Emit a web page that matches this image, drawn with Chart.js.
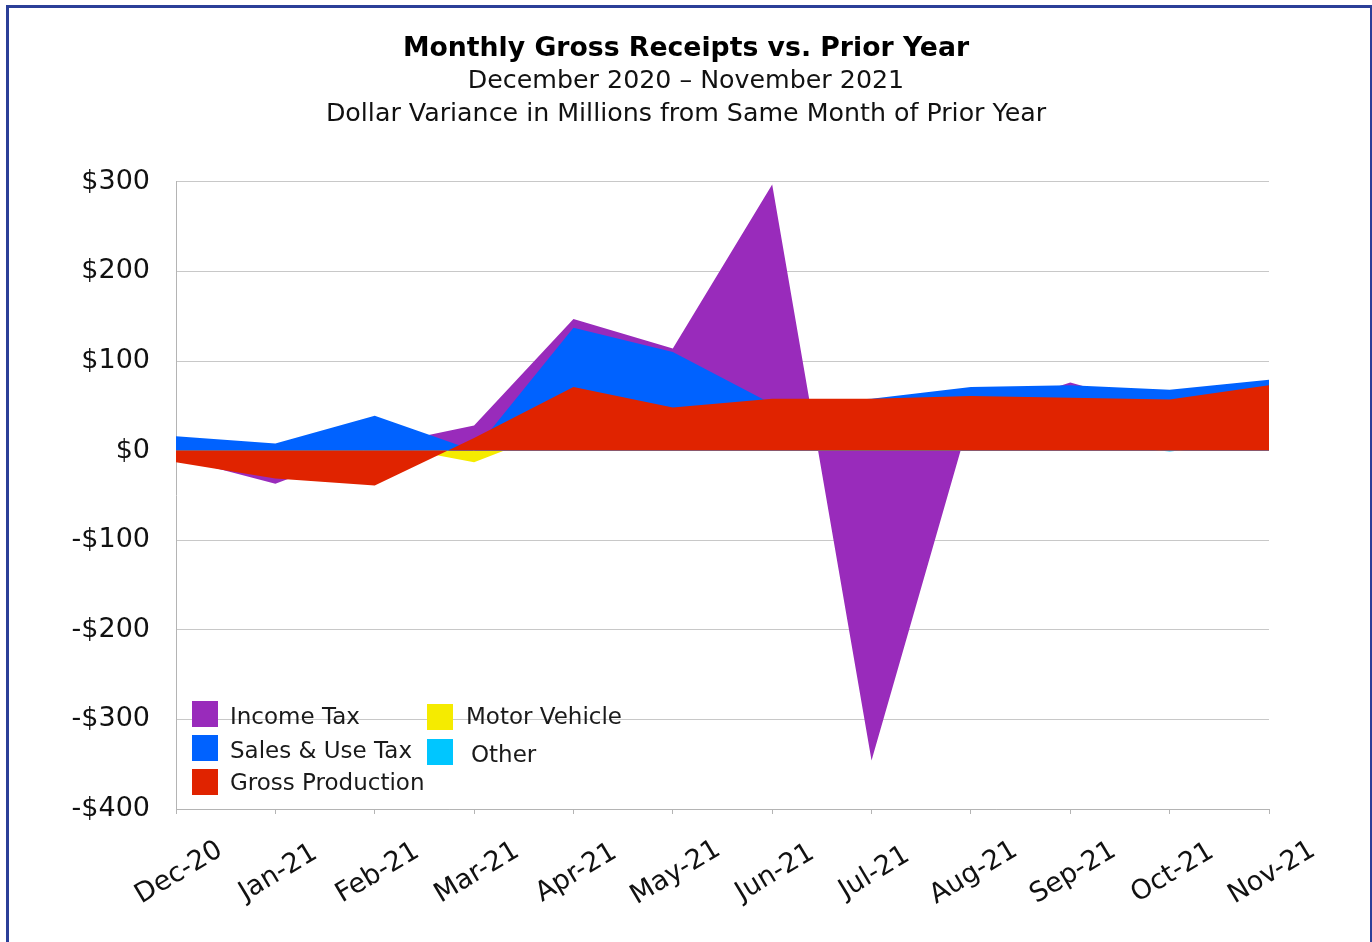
<!DOCTYPE html>
<html>
<head>
<meta charset="utf-8">
<script src="https://cdn.jsdelivr.net/npm/chart.js@4.4.1/dist/chart.umd.min.js"></script>
<style>
  html, body { margin: 0; padding: 0; background: #fff; }
  #wrap { position: relative; width: 1372px; height: 942px; overflow: hidden; }
  #frame { position: absolute; left: 6px; top: 5px; width: 1361px; height: 960px;
           border-left: 3px solid #2b3f98; border-top: 3px solid #2b3f98; border-right: 2px solid #2b3f98; }
  .leg { position: absolute; font-family: "DejaVu Sans", sans-serif; font-size: 23px; color: #1a1a1a; line-height: 26px; }
  .sw { position: absolute; width: 26px; height: 26px; }
</style>
</head>
<body>
<div id="wrap">
  <canvas id="chartReceipts"></canvas>
  <div id="frame"></div>
  <div id="legend"></div>
</div>
<script>
const months = ['Dec-20', 'Jan-21', 'Feb-21', 'Mar-21', 'Apr-21', 'May-21',
                'Jun-21', 'Jul-21', 'Aug-21', 'Sep-21', 'Oct-21', 'Nov-21'];

// dollar variance, millions
const incomeTax       = [-8, -37, 5, 28, 147, 114, 297, -346, 40, 76, 45, 60];
const salesUseTax     = [16, 8, 39, 0, 137, 110, 52, 58, 71, 73, 68, 79];
const grossProduction = [-13, -31, -39, 14, 71, 48, 58, 58, 61, 59, 57, 73];
const motorVehicle    = [4, 3, 8, -13, 30, 20, 15, 10, 6, 4, 3, 5];
const other           = [3, 2, 4, 3, 5, 6, 4, 3, 3, 10, -1, 10];

const yTicks = [-400, -300, -200, -100, 0, 100, 200, 300];

const colors = {
    income: '#992bbb',
    sales: '#0062ff',
    gross: '#e02300',
    motor: '#f5eb00',
    other: '#00c6ff'
};

function area(label, data, color, order) {
    return {
        label: label,
        data: data,
        backgroundColor: color,
        borderColor: color,
        borderWidth: 0,
        pointRadius: 0,
        fill: 'origin',
        tension: 0,
        order: order
    };
}

// month labels centred under each tick, tilted like the original
const xLabels = {
    id: 'xLabels',
    afterDraw(chart) {
        const ctx = chart.ctx;
        const scale = chart.scales.x;
        const bottom = chart.chartArea.bottom;
        ctx.save();
        ctx.font = '27px "DejaVu Sans"';
        ctx.fillStyle = '#111';
        ctx.textAlign = 'center';
        ctx.textBaseline = 'middle';
        months.forEach(function (m, i) {
            const x = scale.getPixelForValue(i);
            ctx.save();
            ctx.translate(x + 3, bottom + 64);
            ctx.rotate(-31 * Math.PI / 180);
            ctx.fillText(m, 0, 0);
            ctx.restore();
        });
        ctx.restore();
    }
};

const canvas = document.getElementById('chartReceipts');
canvas.width = 1372;
canvas.height = 942;

new Chart(canvas.getContext('2d'), {
    type: 'line',
    data: {
        labels: months,
        datasets: [
            area('Income Tax', incomeTax, colors.income, 5),
            area('Sales & Use Tax', salesUseTax, colors.sales, 2),
            area('Gross Production', grossProduction, colors.gross, 1),
            area('Motor Vehicle', motorVehicle, colors.motor, 4),
            area('Other', other, colors.other, 3)
        ]
    },
    options: {
        responsive: false,
        animation: false,
        layout: { padding: 0 },
        plugins: {
            legend: { display: false },
            tooltip: { enabled: false },
            title: {
                display: true,
                text: 'Monthly Gross Receipts vs. Prior Year',
                color: '#000',
                font: { family: 'DejaVu Sans', size: 26.7, weight: 'bold', lineHeight: 1.2 },
                padding: { top: 33, bottom: 0 }
            },
            subtitle: {
                display: true,
                text: ['December 2020 \u2013 November 2021',
                       'Dollar Variance in Millions from Same Month of Prior Year'],
                color: '#111',
                font: { family: 'DejaVu Sans', size: 25.3, lineHeight: 1.3 },
                padding: { top: 0, bottom: 51 }
            }
        },
        scales: {
            x: {
                type: 'category',
                offset: false,
                grid: { drawOnChartArea: false, drawTicks: true, tickLength: 5, color: '#b4b4b4' },
                border: { color: '#b4b4b4' },
                ticks: { display: false },
                afterFit: function (scale) { scale.height = 133; }
            },
            y: {
                min: -400,
                max: 300,
                afterBuildTicks: function (scale) {
                    scale.ticks = yTicks.map(function (v) { return { value: v }; });
                },
                grid: { color: '#c8c8c8', drawTicks: false },
                border: { color: '#b4b4b4' },
                ticks: {
                    padding: 26,
                    color: '#111',
                    font: { family: 'DejaVu Sans', size: 27 },
                    callback: function (v) { return (v < 0 ? '-$' : '$') + Math.abs(v); }
                },
                afterFit: function (scale) { scale.width = 176; }
            },
            // empty right-hand axis that only reserves the margin, so the titles stay centred on the page
            yRight: {
                position: 'right',
                min: -400,
                max: 300,
                grid: { display: false },
                border: { display: false },
                ticks: { display: false },
                afterFit: function (scale) { scale.width = 103; }
            }
        }
    },
    plugins: [xLabels]
});

// legend laid out in two columns inside the plot, as in the original
const legendItems = [
    { text: 'Income Tax',       color: colors.income, sx: 192, sy: 701, tx: 230, ty: 703 },
    { text: 'Sales & Use Tax',  color: colors.sales,  sx: 192, sy: 735, tx: 230, ty: 737 },
    { text: 'Gross Production', color: colors.gross,  sx: 192, sy: 769, tx: 230, ty: 769 },
    { text: 'Motor Vehicle',    color: colors.motor,  sx: 427, sy: 704, tx: 466, ty: 703 },
    { text: 'Other',            color: colors.other,  sx: 427, sy: 739, tx: 471, ty: 741 }
];
const legendEl = document.getElementById('legend');
legendItems.forEach(function (it) {
    const sw = document.createElement('div');
    sw.className = 'sw';
    sw.style.left = it.sx + 'px';
    sw.style.top = it.sy + 'px';
    sw.style.background = it.color;
    legendEl.appendChild(sw);
    const t = document.createElement('div');
    t.className = 'leg';
    t.style.left = it.tx + 'px';
    t.style.top = it.ty + 'px';
    t.textContent = it.text;
    legendEl.appendChild(t);
});
</script>
</body>
</html>
